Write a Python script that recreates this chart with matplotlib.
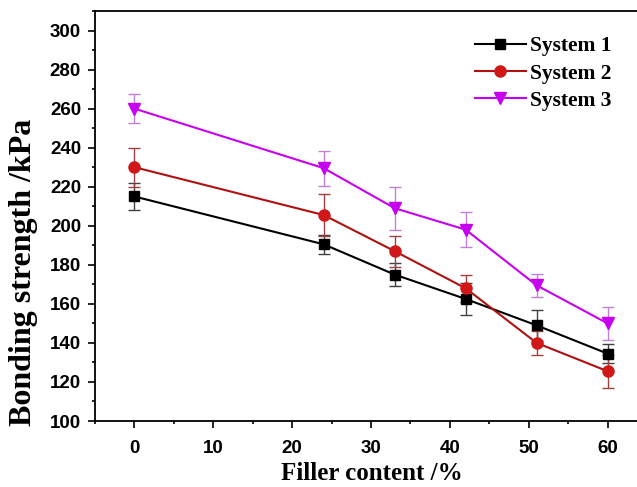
import matplotlib
matplotlib.use("Agg")
import matplotlib.pyplot as plt
from matplotlib.ticker import MultipleLocator

filler = [0, 24, 33, 42, 51, 60]
sys1 = [215, 190.5, 175, 162.5, 149, 134.5]
sys2 = [230, 205.5, 187, 168, 140, 125.5]
sys3 = [260, 229.5, 209, 198, 169.5, 150]
err1 = [7, 5, 6, 8, 8, 5]
err2 = [10, 11, 8, 7, 6, 8.5]
err3 = [7.5, 9, 11, 9, 6, 8.5]
labels = ["System 1", "System 2", "System 3"]

W, H = 637, 487
fig = plt.figure(figsize=(W / 100, H / 100), dpi=100)
ax = fig.add_axes([95 / W, 66 / H, (647 - 95) / W, (421 - 11) / H])

series = [
    (sys1, err1, "black", "black", "#404040", "s", 7),
    (sys2, err2, "#b01010", "#d01818", "#a04040", "o", 8),
    (sys3, err3, "#c800f0", "#c800f0", "#c080d8", "v", 8.5),
]
handles = []
for (vals, err, col, mcol, ecol, mk, ms), lab in zip(series, labels):
    ax.errorbar(filler, vals, yerr=err, fmt="none", ecolor=ecol, elinewidth=1.0,
                capsize=4, capthick=1.0, zorder=2)
    h, = ax.plot(filler, vals, color=col, marker=mk, markersize=ms,
                 markerfacecolor=mcol, markeredgecolor=mcol,
                 linewidth=1.5, label=lab, zorder=3)
    handles.append(h)

ax.set_xlim(-5, 65)
ax.set_ylim(100, 310)
ax.xaxis.set_major_locator(MultipleLocator(10))
ax.xaxis.set_minor_locator(MultipleLocator(5))
ax.yaxis.set_minor_locator(MultipleLocator(10))
ax.set_yticks(range(100, 301, 20))
ax.tick_params(which="both", direction="out", top=False, right=False, width=1.2)
ax.tick_params(which="major", length=5)
ax.tick_params(which="minor", length=2.5)
ax.tick_params(axis="x", which="major", pad=9)
ax.tick_params(axis="y", which="major", pad=5)
for sp in ax.spines.values():
    sp.set_linewidth(1.3)

for t in ax.get_xticklabels() + ax.get_yticklabels():
    t.set_fontfamily("Liberation Sans")
    t.set_fontweight("bold")
    t.set_fontsize(13.5)

fig.text(372 / W, 1 - 480 / H, "Filler content /%", fontfamily="Liberation Serif",
         fontweight="bold", fontsize=18, ha="center", va="baseline")
fig.text(24 / W, 1 - 272 / H, "Bonding strength /kPa", fontfamily="Liberation Serif",
         fontweight="bold", fontsize=23, ha="center", va="center", rotation=90)

leg = fig.legend(handles=handles, loc="upper left", bbox_to_anchor=(456 / W, 1 - 17 / H),
                 frameon=False, handlelength=2.33, handletextpad=0.23, labelspacing=0.33,
                 prop={"family": "Liberation Serif", "weight": "bold", "size": 15.5})

fig.savefig("out.png", dpi=100)
